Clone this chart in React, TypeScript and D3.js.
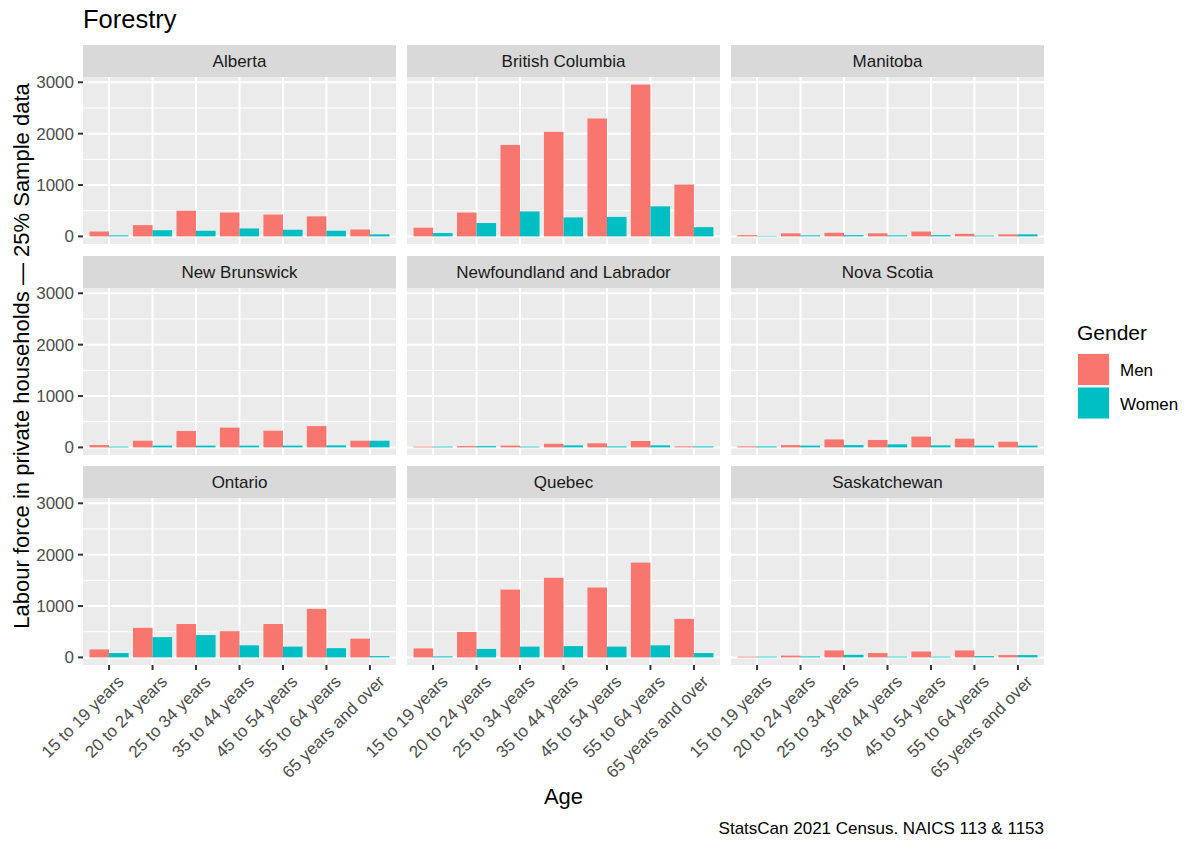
import React from "react";
import * as d3 from "d3";

const ageGroups = [
  "15 to 19 years",
  "20 to 24 years",
  "25 to 34 years",
  "35 to 44 years",
  "45 to 54 years",
  "55 to 64 years",
  "65 years and over",
];
const genders = ["Men", "Women"];
const genderColors = ["#F8766D", "#00BFC4"];
const provinces = [
  "Alberta",
  "British Columbia",
  "Manitoba",
  "New Brunswick",
  "Newfoundland and Labrador",
  "Nova Scotia",
  "Ontario",
  "Quebec",
  "Saskatchewan",
];

const albertaMen = [95, 220, 500, 465, 425, 390, 135];
const albertaWomen = [20, 120, 110, 155, 130, 110, 40];
const bcMen = [170, 465, 1780, 2035, 2295, 2955, 1010];
const bcWomen = [65, 260, 485, 370, 380, 585, 180];
const manitobaMen = [25, 60, 70, 60, 95, 50, 40];
const manitobaWomen = [10, 20, 25, 20, 25, 15, 40];
const nbMen = [45, 130, 320, 385, 325, 415, 130];
const nbWomen = [15, 35, 35, 35, 35, 40, 130];
const nlMen = [15, 25, 35, 70, 80, 125, 20];
const nlWomen = [15, 25, 15, 40, 20, 40, 20];
const nsMen = [20, 45, 155, 145, 210, 170, 110];
const nsWomen = [20, 35, 45, 60, 40, 35, 35];
const ontarioMen = [155, 575, 650, 510, 650, 945, 365];
const ontarioWomen = [85, 395, 435, 235, 210, 180, 25];
const quebecMen = [175, 495, 1320, 1550, 1360, 1845, 750];
const quebecWomen = [20, 165, 210, 220, 210, 235, 85];
const saskMen = [15, 35, 135, 85, 115, 135, 45];
const saskWomen = [15, 20, 50, 15, 15, 25, 45];

const yTicks = [0, 1000, 2000, 3000];
const yMinor = [500, 1500, 2500];

const seriesByProvince = [
  [albertaMen, albertaWomen],
  [bcMen, bcWomen],
  [manitobaMen, manitobaWomen],
  [nbMen, nbWomen],
  [nlMen, nlWomen],
  [nsMen, nsWomen],
  [ontarioMen, ontarioWomen],
  [quebecMen, quebecWomen],
  [saskMen, saskWomen],
];

const W = 1200;
const H = 845;
const FONT = "Arial, 'Liberation Sans', Helvetica, sans-serif";

const colLeft = [83, 407, 731];
const panelW = 313;
const stripTop = [45, 256, 466];
const stripH = 32;
const panelH = 167;

export default function App() {
  const allVals = seriesByProvince.flat(2);
  const maxV = d3.max(allVals) as number;
  const pad = maxV * 0.05;

  return (
    <svg
      width={W}
      height={H}
      style={{ display: "block", position: "absolute", left: 0, top: 0, background: "#fff" }}
      fontFamily={FONT}
    >
      <rect x={0} y={0} width={W} height={H} fill="#fff" />
      <text x={83} y={28} fontSize={25.5} fill="#000">
        Forestry
      </text>
      {provinces.map((prov, pi) => {
        const col = pi % 3;
        const row = Math.floor(pi / 3);
        const x0 = colLeft[col];
        const sTop = stripTop[row];
        const pTop = sTop + stripH;
        const pBot = pTop + panelH;
        const x = d3
          .scaleLinear()
          .domain([-0.6, ageGroups.length - 1 + 0.6])
          .range([x0, x0 + panelW]);
        const y = d3
          .scaleLinear()
          .domain([-pad, maxV + pad])
          .range([pBot, pTop]);
        const [menV, womenV] = seriesByProvince[pi];
        return (
          <g key={prov}>
            <rect x={x0} y={sTop} width={panelW} height={stripH} fill="#D9D9D9" />
            <text
              x={x0 + panelW / 2}
              y={sTop + stripH / 2 + 6}
              textAnchor="middle"
              fontSize={17}
              fill="#1A1A1A"
            >
              {prov}
            </text>
            <rect x={x0} y={pTop} width={panelW} height={panelH} fill="#EBEBEB" />
            {yMinor.map((t) => (
              <line
                key={"mi" + t}
                x1={x0}
                x2={x0 + panelW}
                y1={y(t)}
                y2={y(t)}
                stroke="#fff"
                strokeWidth={1}
              />
            ))}
            {yTicks.map((t) => (
              <line
                key={"ma" + t}
                x1={x0}
                x2={x0 + panelW}
                y1={y(t)}
                y2={y(t)}
                stroke="#fff"
                strokeWidth={2}
              />
            ))}
            {ageGroups.map((a, i) => (
              <line
                key={"vg" + a}
                x1={x(i)}
                x2={x(i)}
                y1={pTop}
                y2={pBot}
                stroke="#fff"
                strokeWidth={2}
              />
            ))}
            {ageGroups.map((a, i) => {
              const vals = [menV[i], womenV[i]];
              return (
                <g key={"b" + a}>
                  {vals.map((v, gi) => {
                    const left = x(i - 0.45 + gi * 0.45);
                    const right = x(i + gi * 0.45);
                    return (
                      <rect
                        key={gi}
                        x={left}
                        width={right - left}
                        y={y(v)}
                        height={y(0) - y(v)}
                        fill={genderColors[gi]}
                      />
                    );
                  })}
                </g>
              );
            })}
            {col === 0 &&
              yTicks.map((t) => (
                <g key={"yt" + t}>
                  <line x1={x0 - 5} x2={x0} y1={y(t)} y2={y(t)} stroke="#333" strokeWidth={2} />
                  <text
                    x={x0 - 9}
                    y={y(t) + 6}
                    textAnchor="end"
                    fontSize={17}
                    fill="#4D4D4D"
                  >
                    {t}
                  </text>
                </g>
              ))}
            {row === 2 &&
              ageGroups.map((a, i) => (
                <g key={"xt" + a}>
                  <line x1={x(i)} x2={x(i)} y1={pBot} y2={pBot + 5} stroke="#333" strokeWidth={2} />
                  <text
                    transform={`translate(${x(i) + 7},${pBot + 9}) rotate(-45)`}
                    textAnchor="end"
                    dy="0.72em"
                    fontSize={17}
                    fill="#4D4D4D"
                  >
                    {a}
                  </text>
                </g>
              ))}
          </g>
        );
      })}
      <text
        transform={`translate(29,356) rotate(-90)`}
        textAnchor="middle"
        fontSize={22}
        fill="#000"
      >
        Labour force in private households — 25% Sample data
      </text>
      <text x={563.5} y={804} textAnchor="middle" fontSize={22} fill="#000">
        Age
      </text>
      <text x={1044} y={834} textAnchor="end" fontSize={17} fill="#000">
        StatsCan 2021 Census. NAICS 113 &amp; 1153
      </text>
      <text x={1077} y={340} fontSize={21} fill="#000">
        Gender
      </text>
      {genders.map((g, gi) => (
        <g key={g}>
          <rect x={1077} y={353 + gi * 33.5} width={33} height={33} fill="#F2F2F2" />
          <rect
            x={1078}
            y={354 + gi * 33.5}
            width={31}
            height={31}
            fill={genderColors[gi]}
          />
          <text x={1120} y={376 + gi * 33.5} fontSize={17} fill="#000">
            {g}
          </text>
        </g>
      ))}
    </svg>
  );
}
